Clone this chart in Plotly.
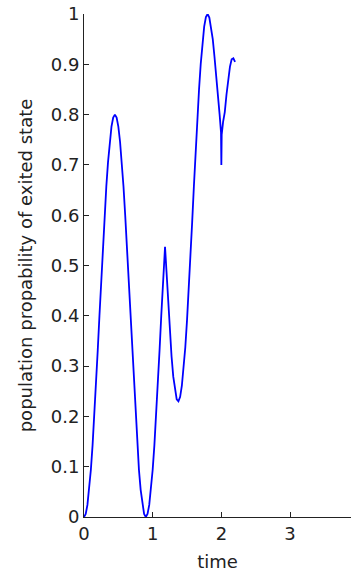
import plotly.graph_objects as go

# Excited-state population over time
time = [0.000, 0.025, 0.050, 0.075, 0.100, 0.125, 0.150, 0.175, 0.200, 0.225,
        0.250, 0.275, 0.300, 0.325, 0.350, 0.375, 0.400, 0.425, 0.450, 0.475,
        0.500, 0.525, 0.550, 0.575, 0.600, 0.625, 0.650, 0.675, 0.700, 0.725,
        0.750, 0.775, 0.800, 0.825, 0.850, 0.875, 0.900, 0.925, 0.950, 0.975,
        1.000, 1.025, 1.050, 1.075, 1.100, 1.125, 1.150, 1.165, 1.180, 1.200,
        1.225, 1.250, 1.275, 1.300, 1.325, 1.350, 1.375, 1.400, 1.425, 1.450,
        1.475, 1.500, 1.525, 1.550, 1.575, 1.600, 1.625, 1.650, 1.675, 1.700,
        1.725, 1.750, 1.775, 1.800, 1.825, 1.850, 1.875, 1.900, 1.925, 1.950,
        1.975, 1.995, 2.000, 2.005, 2.025, 2.050, 2.075, 2.100, 2.125, 2.150,
        2.175, 2.200]
population = [0.000, 0.006, 0.024, 0.054, 0.094, 0.143, 0.200, 0.263, 0.331, 0.400,
              0.469, 0.537, 0.600, 0.657, 0.706, 0.746, 0.776, 0.794, 0.800, 0.794,
              0.776, 0.746, 0.706, 0.657, 0.600, 0.537, 0.469, 0.400, 0.331, 0.263,
              0.200, 0.143, 0.094, 0.054, 0.024, 0.006, 0.000, 0.006, 0.024, 0.054,
              0.094, 0.143, 0.200, 0.263, 0.331, 0.400, 0.469, 0.510, 0.537, 0.491,
              0.427, 0.369, 0.319, 0.279, 0.251, 0.234, 0.230, 0.239, 0.261, 0.294,
              0.337, 0.391, 0.451, 0.517, 0.586, 0.657, 0.726, 0.791, 0.850, 0.901,
              0.944, 0.975, 0.994, 1.000, 0.993, 0.975, 0.950, 0.915, 0.880, 0.845,
              0.800, 0.765, 0.700, 0.760, 0.785, 0.805, 0.840, 0.872, 0.895, 0.910,
              0.912, 0.905]

x_ticks = [0, 1, 2, 3]
y_ticks = [0, 0.1, 0.2, 0.3, 0.4, 0.5, 0.6, 0.7, 0.8, 0.9, 1]
y_tick_text = ["0", "0.1", "0.2", "0.3", "0.4", "0.5", "0.6", "0.7", "0.8", "0.9", "1"]

font_family = "DejaVu Sans"
text_color = "#222222"
axis_color = "#222222"

fig = go.Figure(
    go.Scatter(x=time, y=population, mode="lines",
               line=dict(color="#0000ff", width=1.8), showlegend=False)
)

fig.update_layout(
    width=351, height=574,
    margin=dict(l=84, r=0, t=14, b=57),
    paper_bgcolor="white", plot_bgcolor="white",
    font=dict(family=font_family, size=18, color=text_color),
)

fig.update_xaxes(
    range=[0, 3.888], tickvals=x_ticks, ticktext=[str(v) for v in x_ticks],
    showgrid=False, zeroline=False, showline=True, linecolor=axis_color, linewidth=1,
    ticks="inside", ticklen=5, tickcolor=axis_color,
    title=dict(text="time", standoff=12, font=dict(size=18)),
)
fig.update_yaxes(
    range=[0, 1], tickvals=y_ticks, ticktext=y_tick_text,
    showgrid=False, zeroline=False, showline=True, linecolor=axis_color, linewidth=1,
    ticks="inside", ticklen=5, tickcolor=axis_color,
    title=dict(text="population propability of exited state", standoff=13, font=dict(size=18)),
)

fig.write_html("out.html")
